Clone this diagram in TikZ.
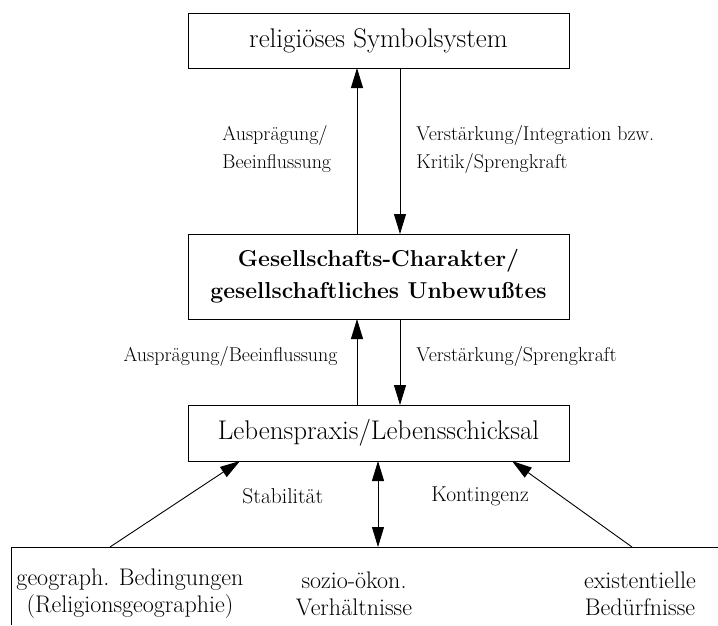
\documentclass[tikz,border=0pt]{standalone}
\usepackage{fontspec}
\usetikzlibrary{arrows.meta}
\begin{document}
\begin{tikzpicture}[x=1pt,y=-1pt,
  line width=0.9pt,
  box/.style={draw,rectangle,inner sep=0pt,font=\fontsize{27}{32}\selectfont},
  lbl/.style={inner sep=0pt,align=left,font=\fontsize{20}{28}\selectfont},
  btxt/.style={inner sep=0pt,align=center,font=\fontsize{24}{27}\selectfont},
  arr/.style={-{Triangle[length=20pt,width=12pt]}},
  darr/.style={{Triangle[length=20pt,width=12pt]}-{Triangle[length=20pt,width=12pt]}}]
\useasboundingbox (0,0) rectangle (718,625);
% boxes
\node[box,minimum width=381pt,minimum height=55pt] (top) at (378.5,40.5) {religiöses Symbolsystem};
\node[box,minimum width=381pt,minimum height=85pt,align=center,font=\fontsize{23}{32}\selectfont\bfseries] (mid) at (378.5,276.5) {Gesellschafts-Charakter/\\gesellschaftliches Unbewußtes};
\node[box,minimum width=381pt,minimum height=56pt] (low) at (378.5,433) {Lebenspraxis/Lebensschicksal};
% coordinates for arrows
\coordinate (t1) at (357,68);
\coordinate (t2) at (400,68);
\coordinate (m1) at (357,234);
\coordinate (m2) at (400,234);
\coordinate (m3) at (357,319);
\coordinate (m4) at (400,319);
\coordinate (l1) at (357,405);
\coordinate (l2) at (400,405);
\coordinate (l3) at (240,461);
\coordinate (l4) at (378,461);
\coordinate (l5) at (512,461);
% base line
\coordinate (bl) at (11,625);
\coordinate (bc) at (11,547);
\coordinate (br) at (718,547);
\coordinate (b1) at (110,547);
\coordinate (b2) at (378,547);
\coordinate (b3) at (632,547);
\draw (bl) -- (bc) -- (br);
% arrows
\draw[arr] (m1) -- (t1);
\draw[arr] (t2) -- (m2);
\draw[arr] (l1) -- (m3);
\draw[arr] (m4) -- (l2);
\draw[arr] (b1) -- (l3);
\draw[arr] (b3) -- (l5);
\draw[darr] (b2) -- (l4);
% labels
\node[lbl,anchor=west] (a1) at (222,149) {Ausprägung/\\Beeinflussung};
\node[lbl,anchor=west] (a2) at (416,149) {Verstärkung/Integration bzw.\\Kritik/Sprengkraft};
\node[lbl,anchor=east] (a3) at (338,356) {Ausprägung/Beeinflussung};
\node[lbl,anchor=west] (a4) at (416,356) {Verstärkung/Sprengkraft};
\node[lbl,anchor=west,font=\fontsize{21.5}{24}\selectfont] (a5) at (242,496) {Stabilität};
\node[lbl,anchor=west,font=\fontsize{21.5}{24}\selectfont] (a6) at (431,496) {Kontingenz};
% bottom texts
\node[btxt] (g) at (130,594) {geograph. Bedingungen\\(Religionsgeographie)};
\node[btxt] (s) at (354,594) {sozio-ökon.\\Verhältnisse};
\node[btxt] (e) at (640,594) {existentielle\\Bedürfnisse};
\end{tikzpicture}
\end{document}
